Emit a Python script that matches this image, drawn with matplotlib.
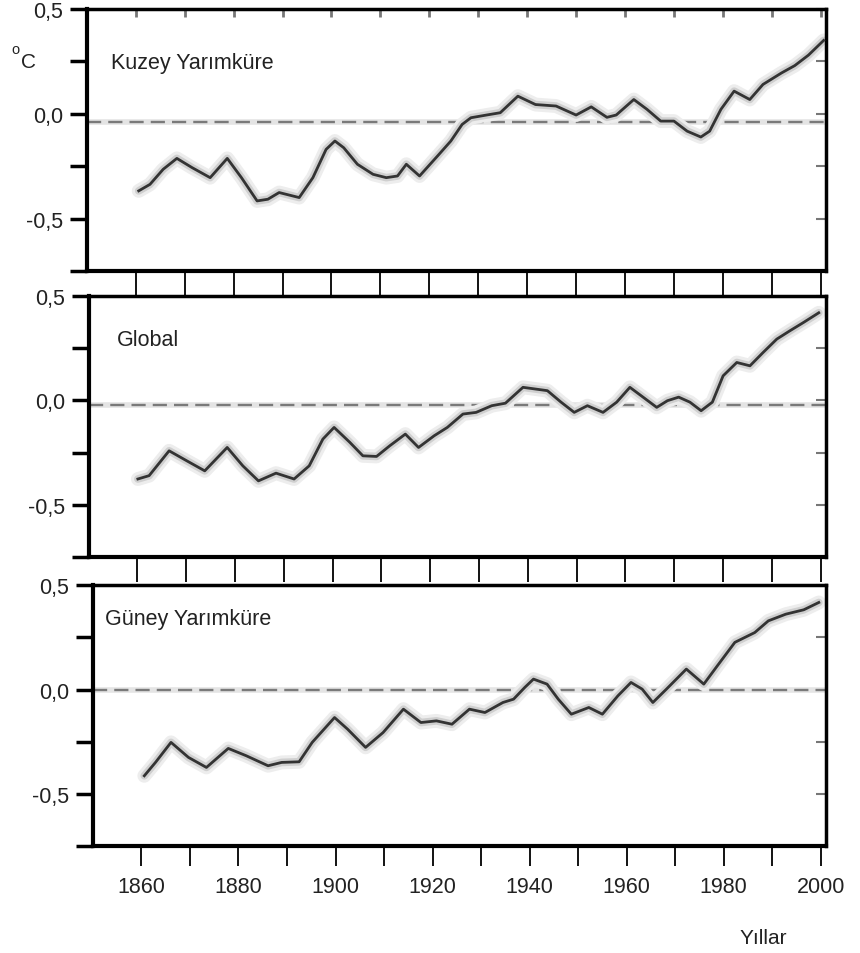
import matplotlib
matplotlib.use("Agg")
import matplotlib.pyplot as plt

plt.rcParams['font.family'] = ['Liberation Sans', 'DejaVu Sans']

# Kuzey Yarimkure (northern hemisphere)
kuzey_years = [1860.6, 1862.9, 1865.6, 1868.4, 1871.5, 1875.2, 1878.7, 1881.6, 1884.8, 1887.0,
               1889.3, 1893.4, 1896.2, 1898.9, 1900.7, 1902.5, 1905.3, 1908.5, 1911.2, 1913.5,
               1915.3, 1918.0, 1921.7, 1924.4, 1926.7, 1928.5, 1931.7, 1934.5, 1938.1, 1941.7,
               1945.9, 1950.0, 1953.1, 1956.3, 1958.2, 1961.8, 1964.5, 1967.3, 1970.0, 1972.7,
               1975.5, 1977.3, 1979.6, 1982.3, 1985.5, 1988.2, 1992.0, 1994.7, 1997.5, 2000.6]
kuzey_vals = [-0.368, -0.337, -0.265, -0.213, -0.257, -0.305, -0.213, -0.305, -0.416, -0.408,
              -0.376, -0.400, -0.305, -0.170, -0.130, -0.162, -0.241, -0.289, -0.305, -0.297,
              -0.241, -0.297, -0.201, -0.130, -0.051, -0.019, -0.006, 0.005, 0.084, 0.044,
              0.037, -0.006, 0.033, -0.017, -0.006, 0.068, 0.021, -0.035, -0.035, -0.083,
              -0.111, -0.083, 0.021, 0.108, 0.068, 0.140, 0.195, 0.230, 0.280, 0.350]

# Global
global_years = [1860.1, 1862.4, 1866.5, 1870.2, 1873.8, 1878.4, 1881.6, 1884.8, 1888.4, 1892.1,
                1895.2, 1898.0, 1900.3, 1903.5, 1906.2, 1909.0, 1911.7, 1914.9, 1917.6, 1920.8,
                1923.5, 1926.7, 1929.4, 1932.6, 1935.4, 1939.0, 1944.0, 1946.8, 1949.5, 1952.2,
                1955.4, 1958.2, 1960.9, 1963.6, 1966.4, 1968.6, 1970.9, 1973.2, 1975.5, 1977.8,
                1980.0, 1982.8, 1985.5, 1988.2, 1991.0, 1993.7, 1996.5, 1999.6]
global_vals = [-0.376, -0.360, -0.241, -0.290, -0.337, -0.225, -0.313, -0.385, -0.348, -0.376,
               -0.313, -0.185, -0.129, -0.200, -0.265, -0.268, -0.217, -0.161, -0.225, -0.169,
               -0.129, -0.065, -0.057, -0.025, -0.013, 0.063, 0.047, -0.008, -0.057, -0.025,
               -0.057, -0.008, 0.063, 0.016, -0.033, -0.001, 0.016, -0.008, -0.049, -0.008,
               0.118, 0.182, 0.166, 0.230, 0.294, 0.334, 0.374, 0.420]

# Guney Yarimkure (southern hemisphere)
guney_years = [1860.6, 1862.9, 1866.1, 1869.7, 1873.4, 1877.9, 1881.6, 1886.1, 1888.9, 1892.5,
               1895.2, 1899.8, 1902.5, 1906.2, 1909.8, 1914.0, 1917.6, 1920.8, 1924.0, 1927.6,
               1930.8, 1934.5, 1936.7, 1939.0, 1940.8, 1943.6, 1945.9, 1948.6, 1952.2, 1955.0,
               1958.2, 1960.9, 1963.2, 1965.4, 1968.2, 1972.3, 1975.9, 1978.7, 1982.3, 1986.4,
               1989.2, 1992.8, 1996.5, 1999.6]
guney_vals = [-0.413, -0.349, -0.253, -0.325, -0.373, -0.282, -0.317, -0.365, -0.349, -0.346,
              -0.253, -0.134, -0.190, -0.277, -0.206, -0.094, -0.158, -0.150, -0.166, -0.094,
              -0.110, -0.062, -0.046, 0.010, 0.050, 0.026, -0.046, -0.118, -0.086, -0.118,
              -0.030, 0.034, 0.002, -0.062, 0.002, 0.098, 0.026, 0.114, 0.226, 0.273,
              0.329, 0.361, 0.382, 0.417]

panel_names = ['Kuzey Yarımküre', 'Global', 'Güney Yarımküre']
baselines = [-0.04, -0.02, 0.0]
series = [(kuzey_years, kuzey_vals), (global_years, global_vals), (guney_years, guney_vals)]

y_ticks = [0.5, 0.25, 0.0, -0.25, -0.5, -0.75]
y_labels = ['0,5', '', '0,0', '', '-0,5', '']
x_ticks = list(range(1860, 2001, 10))
x_labels = [str(y) if y % 20 == 0 else '' for y in x_ticks]

fig = plt.figure(figsize=(8.6, 9.54), dpi=100)

# axes boxes in figure fractions (left, bottom, width, height)
boxes = [(0.101, 0.715, 0.859, 0.2745),
         (0.103, 0.415, 0.857, 0.2736),
         (0.108, 0.112, 0.852, 0.2736)]
name_pos = [(0.033, 0.794), (0.039, 0.835), (0.017, 0.874)]

for i, ax_box in enumerate(boxes):
    ax = fig.add_axes(ax_box)
    yrs, vals = series[i]
    # soft grey halo under the curve, like the scanned original
    ax.plot(yrs, vals, color='#ededed', lw=10, solid_joinstyle='round',
            solid_capstyle='round', zorder=2)
    ax.plot(yrs, vals, color='#cfcfcf', lw=5.5, solid_joinstyle='round',
            solid_capstyle='round', zorder=2)
    ax.plot(yrs, vals, color='#333333', lw=2, solid_joinstyle='round', zorder=3)
    ax.axhline(baselines[i], color='#e4e4e4', lw=4, zorder=1)
    ax.axhline(baselines[i], color='#7a7a7a', lw=1.7, dashes=(6, 3), zorder=1)

    ax.set_xlim(1850, 2001)
    ax.set_ylim(-0.75, 0.5)
    ax.set_yticks(y_ticks)
    ax.set_yticklabels(y_labels, fontsize=15.5, color='#222222')
    ax.tick_params(axis='y', direction='out', length=12, width=2.5, pad=5, right=False)

    # inward grey ticks on the right side
    ry = ax.secondary_yaxis('right')
    ry.set_yticks(y_ticks)
    ry.tick_params(axis='y', direction='in', length=7, width=1.5, color='#777777',
                   labelright=False)

    ax.set_xticks(x_ticks)
    if i < 2:
        ax.set_xticklabels([])
        ax.tick_params(axis='x', direction='out', length=18, width=1.3, top=False)
    else:
        ax.set_xticklabels(x_labels, fontsize=15.5, color='#222222')
        ax.tick_params(axis='x', direction='out', length=14.5, width=1.3, pad=7)
    if i == 0:
        tx = ax.secondary_xaxis('top')
        tx.set_xticks(x_ticks)
        tx.tick_params(axis='x', direction='in', length=6, width=2, color='#777777',
                       labeltop=False)

    for side in ['left', 'bottom']:
        ax.spines[side].set_linewidth(3)
    for side in ['top', 'right']:
        ax.spines[side].set_linewidth(2.5)

    ax.text(name_pos[i][0], name_pos[i][1], panel_names[i], transform=ax.transAxes,
            fontsize=15.5, color='#222222', ha='left', va='center')

# degree-C unit label at the top left
fig.text(0.013, 0.943, 'o', fontsize=10.5, color='#222222')
fig.text(0.024, 0.929, 'C', fontsize=15, color='#222222')
fig.text(0.860, 0.010, 'Yıllar', fontsize=15, color='#222222')

fig.savefig('out.png', dpi=100)
